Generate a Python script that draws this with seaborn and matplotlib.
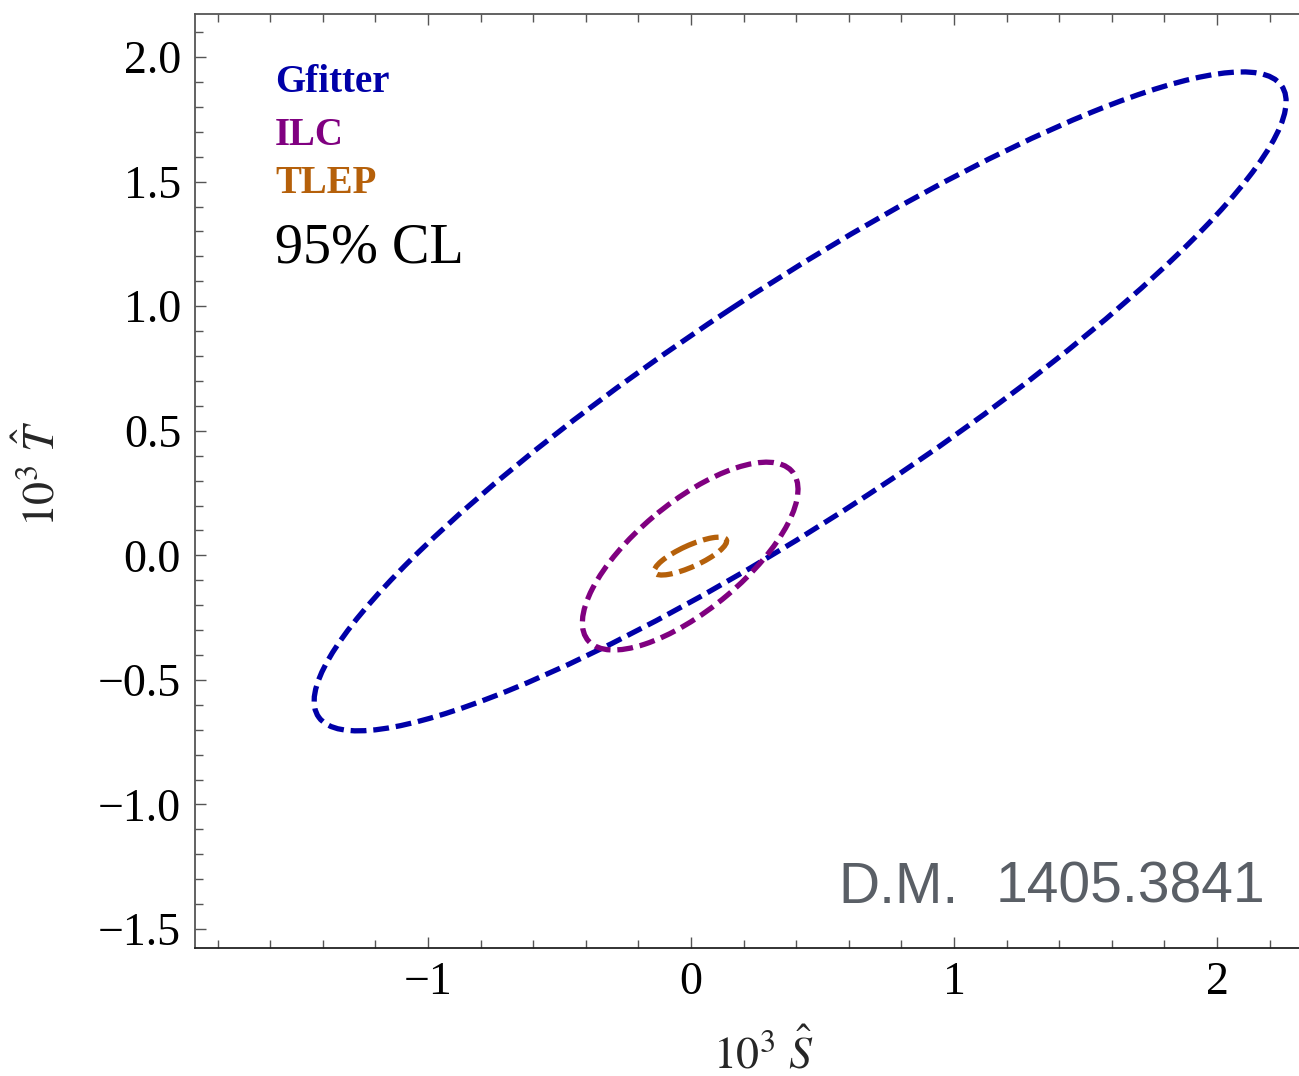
import numpy as np
import matplotlib
matplotlib.use("Agg")
import matplotlib.pyplot as plt
from matplotlib.patches import Ellipse
from matplotlib.ticker import MultipleLocator, FuncFormatter
import seaborn as sns

# ---- data ----
experiments = ["Gfitter", "ILC", "TLEP"]
center_S = [0.415, -0.003, -0.002]
center_T = [0.618, -0.003, -0.003]
extent_S = [1.848, 0.410, 0.1376]   # half-extent along S of the 95% CL contour
extent_T = [1.3225, 0.377, 0.076]   # half-extent along T
correlation = [0.91, 0.71, 0.79]
colors = ["#0000A8", "#800080", "#B5600A"]

x_ticks = [-1, 0, 1, 2]
y_ticks = [-1.5, -1.0, -0.5, 0.0, 0.5, 1.0, 1.5, 2.0]

sns.set_theme(style="ticks")
plt.rcParams["font.family"] = ["Liberation Serif", "DejaVu Serif"]
plt.rcParams["mathtext.fontset"] = "stix"

fig = plt.figure(figsize=(12.99, 10.76), dpi=100)
ax = fig.add_axes([0.1501, 0.119, 0.8499, 0.868])

for i, name in enumerate(experiments):
    sx, sy, rho = extent_S[i], extent_T[i], correlation[i]
    cov = np.array([[sx * sx, rho * sx * sy], [rho * sx * sy, sy * sy]])
    vals, vecs = np.linalg.eigh(cov)
    order = np.argsort(vals)[::-1]
    vals, vecs = vals[order], vecs[:, order]
    angle = np.degrees(np.arctan2(vecs[1, 0], vecs[0, 0]))
    e = Ellipse((center_S[i], center_T[i]), 2 * np.sqrt(vals[0]), 2 * np.sqrt(vals[1]),
                angle=angle, fill=False, edgecolor=colors[i], linewidth=3.8,
                linestyle=(0, (3.0, 1.3)), capstyle="butt", zorder=3)
    ax.add_patch(e)

ax.set_xlim(-1.886, 2.312)
ax.set_ylim(-1.576, 2.173)

ax.xaxis.set_major_locator(MultipleLocator(1))
ax.xaxis.set_minor_locator(MultipleLocator(0.2))
ax.yaxis.set_major_locator(MultipleLocator(0.5))
ax.yaxis.set_minor_locator(MultipleLocator(0.1))
ax.set_xticks(x_ticks)
ax.set_yticks(y_ticks)
ax.xaxis.set_major_formatter(FuncFormatter(lambda v, p: f"{v:.0f}".replace("-", "\u2212")))
ax.yaxis.set_major_formatter(FuncFormatter(lambda v, p: f"{v:.1f}".replace("-", "\u2212")))

spine_col = "#555555"
for side in ["left", "bottom", "top"]:
    ax.spines[side].set_color(spine_col)
    ax.spines[side].set_linewidth(1.3)
ax.spines["bottom"].set_color("#222222")
ax.spines["right"].set_visible(False)

ax.tick_params(axis="both", which="both", direction="in", color=spine_col, width=1.0,
               labelsize=33, top=True, right=False, labelcolor="black")
ax.tick_params(axis="both", which="major", length=8, pad=10)
ax.tick_params(axis="both", which="minor", length=5.5)

ax.set_xlabel(r"$10^3\ \hat{S}$", fontsize=33)
ax.set_ylabel(r"$10^3\ \hat{T}$", fontsize=33)
ax.xaxis.set_label_coords(0.5145, -0.088)
ax.yaxis.set_label_coords(-0.118, 0.508)

tx = (275 - 195) / 1104
ax.text(tx, 0.9164, "Gfitter", transform=ax.transAxes, color=colors[0], fontsize=28,
        fontweight="bold", va="baseline", ha="left")
ax.text(tx, 0.8596, "ILC", transform=ax.transAxes, color=colors[1], fontsize=28,
        fontweight="bold", va="baseline", ha="left")
ax.text(tx, 0.8081, "TLEP", transform=ax.transAxes, color=colors[2], fontsize=28,
        fontweight="bold", va="baseline", ha="left")
ax.text(tx, 0.7342, "95% CL", transform=ax.transAxes, color="black", fontsize=40.5,
        va="baseline", ha="left")

sans = ["Liberation Sans", "DejaVu Sans"]
ax.text((838 - 195) / 1104, 0.0482, "D.M.", transform=ax.transAxes, color="#5A5F66",
        fontsize=41, va="baseline", ha="left", family=sans)
ax.text(0.969, 0.0482, "1405.3841", transform=ax.transAxes, color="#5A5F66",
        fontsize=41, va="baseline", ha="right", family=sans)

fig.savefig("out.png", dpi=100)
